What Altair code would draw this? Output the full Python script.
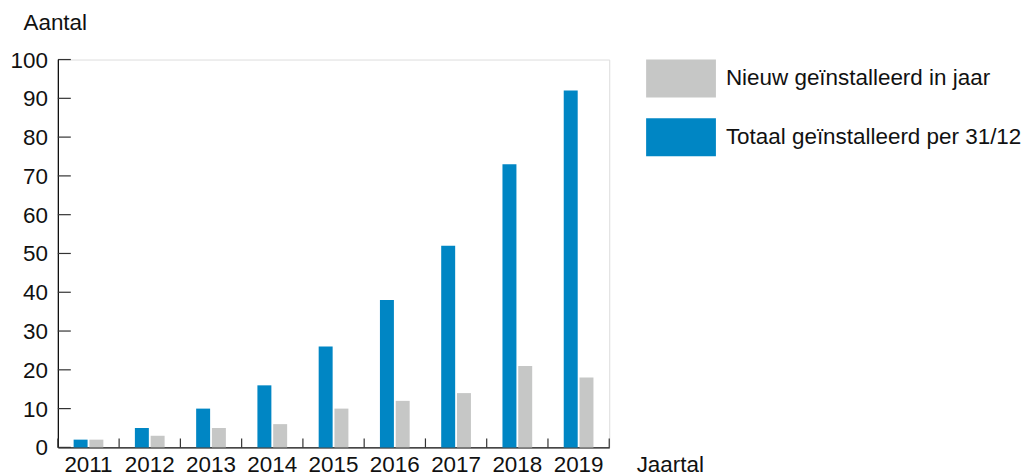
import altair as alt
import pandas as pd

years = ["2011", "2012", "2013", "2014", "2015", "2016", "2017", "2018", "2019"]
totaal = [2, 5, 10, 16, 26, 38, 52, 73, 92]
nieuw = [2, 3, 5, 6, 10, 12, 14, 21, 18]
series = ["Nieuw geïnstalleerd in jaar", "Totaal geïnstalleerd per 31/12"]
colors = ["#C6C7C6", "#0086C4"]
y_ticks = list(range(0, 101, 10))

rows = []
for i, yr in enumerate(years):
    rows.append({"jaar": yr, "serie": series[1], "aantal": totaal[i]})
    rows.append({"jaar": yr, "serie": series[0], "aantal": nieuw[i]})
df = pd.DataFrame(rows)

W, H = 553, 389
FONT = "Liberation Sans"
FS = 22.5
INK = "#111"

x_scale = alt.Scale(domain=years, paddingInner=0, paddingOuter=0)
y_scale = alt.Scale(domain=[0, 100], nice=False)

x_axis = alt.Axis(title="Jaartal", ticks=False, tickSize=0, domainColor=INK,
                  domainWidth=1.3, labelAngle=0, labelFontSize=FS, labelPadding=6,
                  labelOverlap=False,
                  labelColor=INK, titleFontSize=FS, titleFontWeight="normal",
                  titleColor=INK, titleX=580, titleY=24, titleAlign="left",
                  titleBaseline="alphabetic")
y_axis = alt.Axis(values=y_ticks, title="Aantal", ticks=False, tickSize=0,
                  grid=False, labels=False,
                  domainColor=INK, domainWidth=1.3, titleFontSize=FS,
                  titleFontWeight="normal", titleColor=INK, titleAngle=0,
                  titleX=-35, titleY=-30, titleAlign="left",
                  titleBaseline="alphabetic")

bars = alt.Chart(df).mark_bar().encode(
    x=alt.X("jaar:N", scale=x_scale, axis=x_axis),
    xOffset=alt.XOffset("serie:N",
                        scale=alt.Scale(domain=[series[1], series[0]],
                                        paddingInner=0.114, paddingOuter=1)),
    y=alt.Y("aantal:Q", scale=y_scale, axis=y_axis),
    color=alt.Color("serie:N", scale=alt.Scale(domain=series, range=colors),
                    legend=alt.Legend(title=None, orient="none", legendX=590, legendY=-16,
                                      symbolType="M-1,-0.543H1V0.543H-1Z",
                                      symbolSize=4900, symbolStrokeWidth=0,
                                      symbolOpacity=1, labelFontSize=FS,
                                      labelColor=INK, labelOffset=10,
                                      rowPadding=4, labelLimit=400)),
)

ytick_df = pd.DataFrame({"aantal": y_ticks})
yticks = alt.Chart(ytick_df).mark_rule(color="#333", strokeWidth=1.2).encode(
    y=alt.Y("aantal:Q", scale=y_scale, axis=y_axis),
    x=alt.value(0), x2=alt.value(13),
)
ylabels = alt.Chart(ytick_df).mark_text(
    align="right", baseline="middle", dx=-10, dy=1, fontSize=FS, color=INK, font=FONT
).encode(
    y=alt.Y("aantal:Q", scale=y_scale, axis=y_axis),
    x=alt.value(0),
    text=alt.Text("aantal:Q"),
)

xtick_df = pd.DataFrame({"jaar": years})
xticks = alt.Chart(xtick_df).mark_rule(color="#333", strokeWidth=1.2).encode(
    x=alt.X("jaar:N", scale=x_scale, bandPosition=0, axis=x_axis),
    y=alt.value(H), y2=alt.value(H - 9),
)
xend = alt.Chart(pd.DataFrame({"jaar": [years[-1]]})).mark_rule(color="#333", strokeWidth=1.2).encode(
    x=alt.X("jaar:N", scale=x_scale, bandPosition=1, axis=x_axis),
    y=alt.value(H), y2=alt.value(H - 9),
)

chart = alt.layer(bars, yticks, ylabels, xticks, xend).properties(
    width=W, height=H,
    padding={"left": 2, "top": 3, "right": 5, "bottom": 0},
).configure_view(stroke=None).configure(font=FONT)

chart.save("out.html", embed_options={"renderer": "svg", "actions": False})
